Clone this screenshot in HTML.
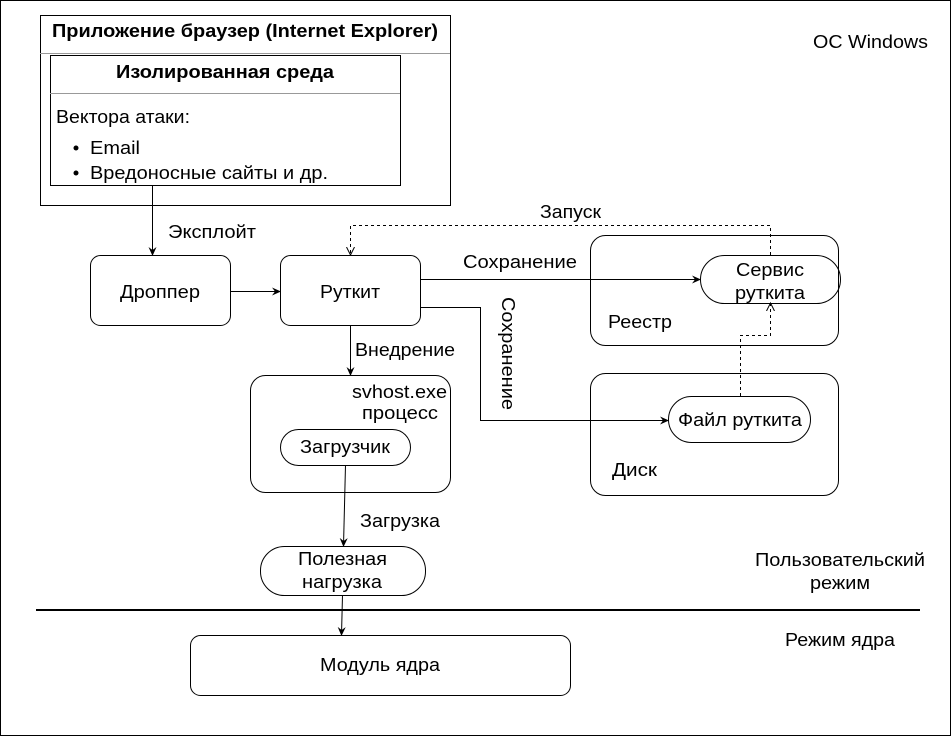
<!DOCTYPE html>
<html><head><meta charset="utf-8"><style>
body{margin:0;background:#fff}
svg{display:block;font-family:"Liberation Sans",sans-serif;font-size:18px}
</style></head><body>
<svg width="951" height="736" viewBox="0 0 951 736" xmlns="http://www.w3.org/2000/svg">
<defs>
<marker id="a" markerWidth="10" markerHeight="10" refX="8" refY="5" orient="auto" markerUnits="userSpaceOnUse">
<path d="M0,1 L9,5 L0,9 L3,5 Z" fill="#000"/></marker>
<marker id="o" markerWidth="10" markerHeight="10" refX="8" refY="5" orient="auto" markerUnits="userSpaceOnUse">
<path d="M0,1 L8,5 L0,9" fill="none" stroke="#000"/></marker>
</defs>
<rect x="0.5" y="0.5" width="950" height="735" fill="#fff" stroke="#000"/>
<g fill="none" stroke="#000">
<rect x="40.5" y="15.5" width="410" height="190"/>
<line x1="40" y1="53.5" x2="450" y2="53.5" stroke="#999"/>
<rect x="50.5" y="55.5" width="350" height="130"/>
<line x1="50" y1="93.5" x2="400" y2="93.5" stroke="#999"/>
<rect x="90.5" y="255.5" width="140" height="70" rx="10"/>
<rect x="280.5" y="255.5" width="140" height="70" rx="10"/>
<rect x="590.5" y="235.5" width="248" height="110" rx="15"/>
<rect x="700.5" y="255.5" width="140" height="48" rx="24"/>
<rect x="590.5" y="373.5" width="248" height="122" rx="15"/>
<rect x="668.5" y="396.5" width="142" height="46" rx="23"/>
<rect x="250.5" y="375.5" width="200" height="117" rx="15"/>
<rect x="280.5" y="429.5" width="130" height="36" rx="18"/>
<rect x="260.5" y="546.5" width="165" height="49" rx="24"/>
<rect x="190.5" y="635.5" width="380" height="60" rx="10"/>
<line x1="152.5" y1="185" x2="152.5" y2="255" marker-end="url(#a)"/>
<line x1="230" y1="291.5" x2="280" y2="291.5" marker-end="url(#a)"/>
<line x1="420" y1="279.5" x2="700" y2="279.5" marker-end="url(#a)"/>
<polyline points="420,307.5 480.5,307.5 480.5,420.5 668,420.5" marker-end="url(#a)"/>
<line x1="350.5" y1="325" x2="350.5" y2="375" marker-end="url(#a)"/>
<line x1="345.5" y1="465" x2="343.5" y2="546" marker-end="url(#a)"/>
<line x1="342.5" y1="595" x2="341.5" y2="635" marker-end="url(#a)"/>
<polyline points="770.5,255 770.5,225.5 350.5,225.5 350.5,255" stroke-dasharray="3,3" marker-end="url(#o)"/>
<polyline points="740.5,396 740.5,335.5 770.5,335.5 770.5,303" stroke-dasharray="3,3" marker-end="url(#o)"/>
</g>
<line x1="36" y1="610" x2="920" y2="610" stroke="#000" stroke-width="2"/>
<g fill="#000" lengthAdjust="spacingAndGlyphs">
<text x="52" y="37" font-weight="bold" textLength="386" lengthAdjust="spacingAndGlyphs">Приложение браузер (Internet Explorer)</text>
<text x="116" y="78" font-weight="bold" textLength="218" lengthAdjust="spacingAndGlyphs">Изолированная среда</text>
<text x="56" y="123" textLength="134" lengthAdjust="spacingAndGlyphs">Вектора атаки:</text>
<circle cx="76" cy="148" r="2.5"/><circle cx="76" cy="173" r="2.5"/>
<text x="90" y="154" textLength="50" lengthAdjust="spacingAndGlyphs">Email</text>
<text x="90" y="179" textLength="238" lengthAdjust="spacingAndGlyphs">Вредоносные сайты и др.</text>
<text x="168" y="238" textLength="88" lengthAdjust="spacingAndGlyphs">Эксплойт</text>
<text x="120" y="298" textLength="80" lengthAdjust="spacingAndGlyphs">Дроппер</text>
<text x="320" y="298" textLength="60" lengthAdjust="spacingAndGlyphs">Руткит</text>
<text x="540" y="218" textLength="61" lengthAdjust="spacingAndGlyphs">Запуск</text>
<text x="463" y="268" textLength="114" lengthAdjust="spacingAndGlyphs">Сохранение</text>
<text x="736" y="276" textLength="68" lengthAdjust="spacingAndGlyphs">Сервис</text>
<text x="735" y="299" textLength="70" lengthAdjust="spacingAndGlyphs">руткита</text>
<text x="608" y="328" textLength="64" lengthAdjust="spacingAndGlyphs">Реестр</text>
<text transform="translate(502,297) rotate(90)" textLength="113" lengthAdjust="spacingAndGlyphs">Сохранение</text>
<text x="678" y="426" textLength="124" lengthAdjust="spacingAndGlyphs">Файл руткита</text>
<text x="612" y="476" textLength="45" lengthAdjust="spacingAndGlyphs">Диск</text>
<text x="355" y="356" textLength="100" lengthAdjust="spacingAndGlyphs">Внедрение</text>
<text x="352" y="398" textLength="95" lengthAdjust="spacingAndGlyphs">svhost.exe</text>
<text x="362" y="419" textLength="76" lengthAdjust="spacingAndGlyphs">процесс</text>
<text x="300" y="453" textLength="90" lengthAdjust="spacingAndGlyphs">Загрузчик</text>
<text x="360" y="527" textLength="80" lengthAdjust="spacingAndGlyphs">Загрузка</text>
<text x="298" y="565" textLength="89" lengthAdjust="spacingAndGlyphs">Полезная</text>
<text x="302" y="588" textLength="80" lengthAdjust="spacingAndGlyphs">нагрузка</text>
<text x="320" y="671" textLength="120" lengthAdjust="spacingAndGlyphs">Модуль ядра</text>
<text x="813" y="48" textLength="115" lengthAdjust="spacingAndGlyphs">OC Windows</text>
<text x="755" y="566" textLength="170" lengthAdjust="spacingAndGlyphs">Пользовательский</text>
<text x="810" y="589" textLength="60" lengthAdjust="spacingAndGlyphs">режим</text>
<text x="785" y="646" textLength="110" lengthAdjust="spacingAndGlyphs">Режим ядра</text>
</g>
</svg>
</body></html>
